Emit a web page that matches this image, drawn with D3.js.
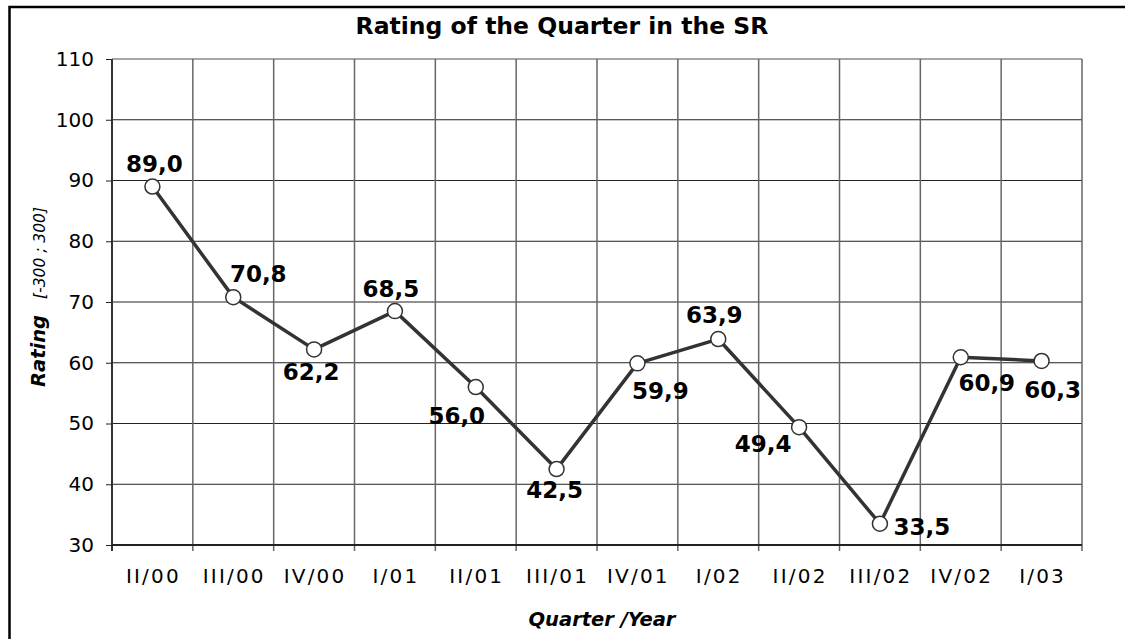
<!DOCTYPE html>
<html>
<head>
<meta charset="utf-8">
<script src="https://cdn.jsdelivr.net/npm/d3@7"></script>
<style>
  body { margin: 0; background: #fff; }
  svg { display: block; font-family: "DejaVu Sans", Verdana, sans-serif; }
  .tick text { fill: #000; }
</style>
</head>
<body>
<div id="chart"></div>
<script>
// data
const quarters = ["II/00", "III/00", "IV/00", "I/01", "II/01", "III/01", "IV/01", "I/02", "II/02", "III/02", "IV/02", "I/03"];
const ratings = [89.0, 70.8, 62.2, 68.5, 56.0, 42.5, 59.9, 63.9, 49.4, 33.5, 60.9, 60.3];
const yTicks = [30, 40, 50, 60, 70, 80, 90, 100, 110];

// where each value label sits relative to its point [dx, dy]
const labelOffsets = [[2, -15], [25, -15], [-3, 31], [-4, -14], [-19, 37], [-2, 29],
                      [23, 36], [-4, -16], [-36, 25], [42, 11], [26, 34], [11, 37]];

const width = 1125, height = 639;
const margin = { top: 59, right: 43, bottom: 94, left: 112 };

const svg = d3.select('#chart')
  .append('svg')
  .attr('width', width)
  .attr('height', height);

// outer frame (only top and left edges fall in view)
svg.append('rect')
  .attr('x', 9.5).attr('y', 7)
  .attr('width', 1300).attr('height', 800)
  .attr('fill', 'none')
  .attr('stroke', '#000')
  .attr('stroke-width', 2.5);

const x = d3.scaleBand()
  .domain(quarters)
  .range([margin.left, width - margin.right]);

const y = d3.scaleLinear()
  .domain([30, 110])
  .range([height - margin.bottom, margin.top]);

// grid
const grid = svg.append('g').attr('class', 'grid');
grid.selectAll('line.h')
  .data(yTicks)
  .enter()
  .append('line')
  .attr('class', 'h')
  .attr('x1', margin.left).attr('x2', width - margin.right)
  .attr('y1', d => y(d)).attr('y2', d => y(d))
  .attr('stroke', d => d === 110 ? '#888' : '#222')
  .attr('stroke-width', d => d === 110 ? 1.5 : 1);

const bounds = quarters.map(q => x(q)).concat([x.range()[1]]);
grid.selectAll('line.v')
  .data(bounds)
  .enter()
  .append('line')
  .attr('class', 'v')
  .attr('x1', d => d).attr('x2', d => d)
  .attr('y1', margin.top).attr('y2', height - margin.bottom + 6)
  .attr('stroke', (d, i) => i === 0 ? '#333' : '#666')
  .attr('stroke-width', (d, i) => i === 0 ? 2 : 1.5);

// y axis
const yAxis = svg.append('g')
  .attr('transform', `translate(${margin.left},0)`)
  .call(d3.axisLeft(y).tickValues(yTicks).tickSize(6).tickPadding(12));
yAxis.select('.domain').remove();
yAxis.selectAll('.tick line').attr('stroke', '#222');
yAxis.selectAll('.tick text')
  .attr('font-size', 20)
  .attr('font-family', '"DejaVu Sans", sans-serif');

// x axis (labels only, tick marks are the extended grid lines)
svg.append('line')
  .attr('x1', margin.left).attr('x2', width - margin.right)
  .attr('y1', y(30)).attr('y2', y(30))
  .attr('stroke', '#222').attr('stroke-width', 2);

svg.append('g')
  .selectAll('text')
  .data(quarters)
  .enter()
  .append('text')
  .attr('x', d => x(d) + x.bandwidth() / 2 + 1)
  .attr('y', height - margin.bottom + 38)
  .attr('text-anchor', 'middle')
  .attr('font-size', 20)
  .attr('letter-spacing', 2.2)
  .text(d => d);

// title
svg.append('text')
  .attr('x', 562).attr('y', 34)
  .attr('text-anchor', 'middle')
  .attr('font-size', 23.5)
  .attr('font-weight', 'bold')
  .text('Rating of the Quarter in the SR');

// axis titles
svg.append('text')
  .attr('x', 602)
  .attr('y', 626)
  .attr('text-anchor', 'middle')
  .attr('font-size', 19.5)
  .attr('font-weight', 'bold')
  .attr('font-style', 'italic')
  .text('Quarter /Year');

const yTitle = svg.append('text')
  .attr('transform', 'translate(45,297) rotate(-90)')
  .attr('text-anchor', 'middle')
  .attr('font-style', 'italic');
yTitle.append('tspan')
  .attr('font-size', 19.5)
  .attr('font-weight', 'bold')
  .text('Rating');
yTitle.append('tspan')
  .attr('font-size', 15.5)
  .attr('dx', 16)
  .text('[-300 ; 300]');

// series
const cx = (d, i) => x(quarters[i]) + x.bandwidth() / 2;
const line = d3.line()
  .x((d, i) => cx(d, i))
  .y(d => y(d));

svg.append('path')
  .datum(ratings)
  .attr('d', line)
  .attr('fill', 'none')
  .attr('stroke', '#333')
  .attr('stroke-width', 3.5)
  .attr('stroke-linejoin', 'round');

svg.append('g')
  .selectAll('circle')
  .data(ratings)
  .enter()
  .append('circle')
  .attr('cx', cx)
  .attr('cy', d => y(d))
  .attr('r', 7.5)
  .attr('fill', '#fff')
  .attr('stroke', '#333')
  .attr('stroke-width', 1.5);

svg.append('g')
  .selectAll('text')
  .data(ratings)
  .enter()
  .append('text')
  .attr('x', (d, i) => cx(d, i) + labelOffsets[i][0])
  .attr('y', (d, i) => y(d) + labelOffsets[i][1])
  .attr('text-anchor', 'middle')
  .attr('font-size', 23)
  .attr('font-weight', 'bold')
  .text(d => d.toFixed(1).replace('.', ','));
</script>
</body>
</html>
